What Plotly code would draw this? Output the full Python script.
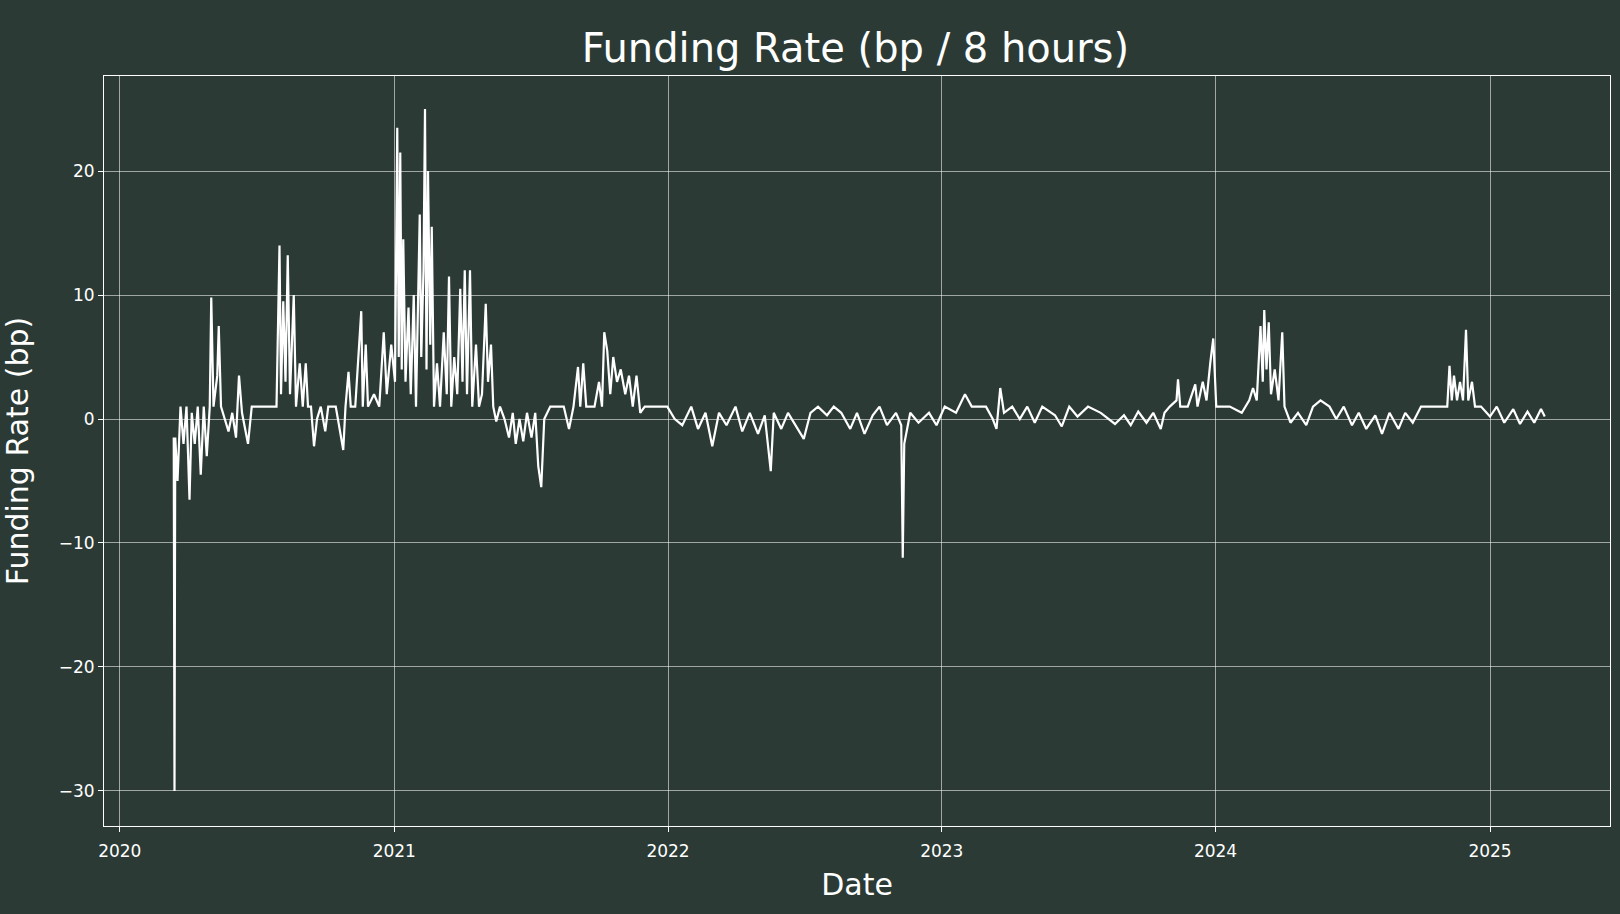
import plotly.graph_objects as go

# funding rate readings (bp per 8 hours)
dates = [
    "2020-03-13", "2020-03-14", "2020-03-15", "2020-03-18", "2020-03-22", "2020-03-26", "2020-03-30",
    "2020-04-03", "2020-04-06", "2020-04-10", "2020-04-14", "2020-04-18", "2020-04-22", "2020-04-26",
    "2020-04-30", "2020-05-02", "2020-05-05", "2020-05-10", "2020-05-12", "2020-05-15", "2020-05-20",
    "2020-05-25", "2020-05-30", "2020-06-04", "2020-06-08", "2020-06-12", "2020-06-20", "2020-06-25",
    "2020-07-01", "2020-07-15", "2020-07-28", "2020-08-01", "2020-08-03", "2020-08-06", "2020-08-09",
    "2020-08-12", "2020-08-15", "2020-08-20", "2020-08-23", "2020-08-28", "2020-09-01", "2020-09-05",
    "2020-09-08", "2020-09-12", "2020-09-16", "2020-09-20", "2020-09-25", "2020-10-01", "2020-10-05",
    "2020-10-15", "2020-10-25", "2020-10-28", "2020-11-01", "2020-11-04", "2020-11-10", "2020-11-18",
    "2020-11-20", "2020-11-24", "2020-11-27", "2020-12-05", "2020-12-12", "2020-12-18", "2020-12-22",
    "2020-12-28", "2021-01-02", "2021-01-05", "2021-01-07", "2021-01-09", "2021-01-11", "2021-01-13",
    "2021-01-16", "2021-01-20", "2021-01-23", "2021-01-27", "2021-01-30", "2021-02-04", "2021-02-06",
    "2021-02-09", "2021-02-11", "2021-02-13", "2021-02-15", "2021-02-18", "2021-02-20", "2021-02-23",
    "2021-02-27", "2021-03-03", "2021-03-08", "2021-03-12", "2021-03-15", "2021-03-18", "2021-03-22",
    "2021-03-26", "2021-03-30", "2021-04-02", "2021-04-05", "2021-04-08", "2021-04-12", "2021-04-15",
    "2021-04-20", "2021-04-24", "2021-04-28", "2021-05-03", "2021-05-06", "2021-05-10", "2021-05-13",
    "2021-05-17", "2021-05-22", "2021-05-28", "2021-06-03", "2021-06-08", "2021-06-12", "2021-06-17",
    "2021-06-22", "2021-06-27", "2021-07-03", "2021-07-08", "2021-07-12", "2021-07-16", "2021-07-20",
    "2021-07-28", "2021-08-05", "2021-08-15", "2021-08-22", "2021-08-28", "2021-09-03", "2021-09-06",
    "2021-09-10", "2021-09-14", "2021-09-25", "2021-10-01", "2021-10-05", "2021-10-08", "2021-10-12",
    "2021-10-16", "2021-10-20", "2021-10-25", "2021-10-30", "2021-11-05", "2021-11-10", "2021-11-15",
    "2021-11-20", "2021-11-25", "2021-12-01", "2021-12-15", "2021-12-31",
    "2022-01-10", "2022-01-20", "2022-02-01", "2022-02-10", "2022-02-20", "2022-03-01", "2022-03-10",
    "2022-03-20", "2022-04-01", "2022-04-10", "2022-04-20", "2022-05-01", "2022-05-10", "2022-05-18",
    "2022-05-22", "2022-06-01", "2022-06-10", "2022-06-20", "2022-07-01", "2022-07-10", "2022-07-20",
    "2022-08-01", "2022-08-10", "2022-08-20", "2022-09-01", "2022-09-10", "2022-09-20", "2022-10-01",
    "2022-10-10", "2022-10-20", "2022-11-01", "2022-11-08", "2022-11-10", "2022-11-12", "2022-11-20",
    "2022-12-01", "2022-12-15", "2022-12-25",
    "2023-01-05", "2023-01-20", "2023-02-01", "2023-02-10", "2023-03-01", "2023-03-10", "2023-03-15",
    "2023-03-20", "2023-03-25", "2023-04-05", "2023-04-15", "2023-04-25", "2023-05-05", "2023-05-15",
    "2023-06-01", "2023-06-10", "2023-06-20", "2023-07-01", "2023-07-15", "2023-08-01", "2023-08-20",
    "2023-09-01", "2023-09-10", "2023-09-20", "2023-10-01", "2023-10-10", "2023-10-20", "2023-10-25",
    "2023-11-01", "2023-11-10", "2023-11-12", "2023-11-15", "2023-11-25", "2023-12-05", "2023-12-08",
    "2023-12-15", "2023-12-20", "2023-12-25", "2023-12-29",
    "2024-01-02", "2024-01-20", "2024-02-05", "2024-02-15", "2024-02-20", "2024-02-25", "2024-03-01",
    "2024-03-04", "2024-03-06", "2024-03-09", "2024-03-12", "2024-03-15", "2024-03-20", "2024-03-25",
    "2024-03-30", "2024-04-02", "2024-04-10", "2024-04-20", "2024-05-01", "2024-05-10", "2024-05-20",
    "2024-06-01", "2024-06-10", "2024-06-20", "2024-07-01", "2024-07-10", "2024-07-20", "2024-08-01",
    "2024-08-10", "2024-08-20", "2024-09-01", "2024-09-10", "2024-09-20", "2024-10-01", "2024-10-20",
    "2024-11-05", "2024-11-08", "2024-11-11", "2024-11-14", "2024-11-18", "2024-11-22", "2024-11-26",
    "2024-11-30", "2024-12-03", "2024-12-08", "2024-12-12", "2024-12-20",
    "2025-01-01", "2025-01-10", "2025-01-20", "2025-02-01", "2025-02-10", "2025-02-20", "2025-03-01",
    "2025-03-10", "2025-03-15",
]
rates = [
    -1.5, -30, -1.5, -5, 1, -2, 1,
    -6.5, 0.5, -2, 1, -4.5, 1, -3,
    1, 9.8, 1, 3.5, 7.5, 1, 0,
    -1, 0.5, -1.5, 3.5, 0.5, -2, 1,
    1, 1, 1, 14, 2, 9.5, 3,
    13.2, 2, 10, 1, 4.5, 1, 4.5,
    1, 1, -2.2, 0, 1, -1, 1,
    1, -2.5, 1, 3.8, 1, 1, 8.7,
    1, 6, 1, 2, 1, 7, 2,
    6, 3, 23.5, 5, 21.5, 4, 14.5,
    3, 9, 2, 10, 1, 16.5, 5,
    12, 25, 4, 20, 6, 15.5, 1,
    4.5, 1, 7, 2, 11.5, 1, 5,
    2, 10.5, 3, 12, 2, 12, 1,
    6, 1, 2, 9.3, 3, 6, 1,
    -0.2, 1, 0, -1.5, 0.5, -2, 0,
    -1.8, 0.5, -1.5, 0.5, -3.8, -5.5, 0,
    1, 1, 1, -0.8, 1, 4.2, 1,
    4.5, 1, 1, 3, 1, 7, 5.5,
    2, 5, 3, 4, 2, 3.5, 1,
    3.5, 0.5, 1, 1, 1,
    0, -0.5, 1, -0.8, 0.5, -2.2, 0.5,
    -0.5, 1, -1, 0.5, -1.2, 0.3, -4.2,
    0.5, -0.8, 0.5, -0.5, -1.6, 0.5, 1,
    0.3, 1, 0.5, -0.8, 0.5, -1.2, 0.3,
    1, -0.5, 0.5, -0.5, -11.2, -2, 0.5,
    -0.3, 0.5, -0.5,
    1, 0.5, 2, 1, 1, 0, -0.8,
    2.5, 0.5, 1, 0, 1, -0.3, 1,
    0.3, -0.6, 1, 0.2, 1, 0.5, -0.4,
    0.3, -0.5, 0.6, -0.3, 0.5, -0.8, 0.5,
    1, 1.5, 3.2, 1, 1, 2.8, 1,
    3, 1.5, 4.5, 6.5,
    1, 1, 0.5, 1.5, 2.5, 1.5, 7.5,
    3, 8.8, 4, 7.8, 2, 4, 1.5,
    7, 1, -0.3, 0.5, -0.5, 1, 1.5,
    1, 0, 1, -0.5, 0.5, -0.8, 0.3,
    -1.2, 0.5, -0.8, 0.5, -0.3, 1, 1,
    1, 4.3, 1.5, 3.5, 1.5, 3, 1.5,
    7.2, 1.5, 3, 1, 1,
    0.2, 1, -0.3, 0.8, -0.4, 0.6, -0.3,
    0.8, 0.2,
]

bg = "#2b3a35"
font = "DejaVu Sans"

fig = go.Figure()
fig.add_trace(go.Scatter(x=dates, y=rates, mode="lines",
                         line=dict(color="white", width=2.2), showlegend=False))

axis = dict(showgrid=True, gridcolor="rgba(255,255,255,0.55)", gridwidth=1,
            showline=True, linecolor="white", linewidth=1, mirror=True,
            ticks="outside", tickcolor="white", ticklen=5, zeroline=False,
            tickfont=dict(size=17, color="white"), title_font=dict(size=30, color="white"))

fig.update_layout(
    width=1620, height=914,
    paper_bgcolor=bg, plot_bgcolor=bg,
    font=dict(family=font, color="white"),
    title=dict(text="Funding Rate (bp / 8 hours)", x=0.528, xanchor="center",
               y=0.947, yanchor="middle", font=dict(size=40, color="white")),
    margin=dict(l=104, r=10, t=76, b=88),
    xaxis=dict(axis, title=dict(text="Date", standoff=13), ticklabelstandoff=5,
               range=["2019-12-11", "2025-06-10"], dtick="M12", tickformat="%Y"),
    yaxis=dict(axis, title=dict(text="Funding Rate (bp)", standoff=22),
               range=[-32.83, 27.67], tickvals=[-30, -20, -10, 0, 10, 20],
               ticktext=["\u221230", "\u221220", "\u221210", "0", "10", "20"]),
)

fig.write_html("out.html", config={"displayModeBar": False},
               post_script="document.body.style.margin='0';"
               "document.body.style.background='#2b3a35';")
